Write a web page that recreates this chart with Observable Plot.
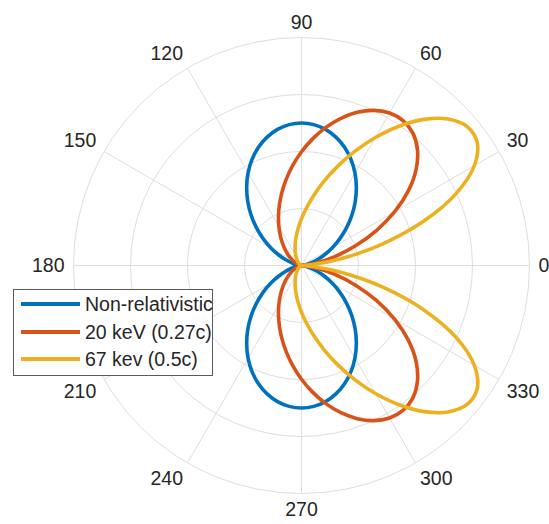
<!DOCTYPE html>
<html>
<head>
<meta charset="utf-8">
<script src="https://cdn.jsdelivr.net/npm/d3@7"></script>
<script src="https://cdn.jsdelivr.net/npm/@observablehq/plot@0.6"></script>
<style>
  html, body { margin: 0; padding: 0; background: #fff; overflow: hidden; }
  #wrap { position: relative; width: 549px; height: 524px; font-family: "Liberation Sans", Arial, Helvetica, sans-serif; }
  #legend { position: absolute; left: 13px; top: 289px; width: 200px; height: 87px; box-sizing: border-box;
            border: 1px solid #5a5a5a; background: #fff; }
  .row { position: absolute; left: 0; height: 24px; width: 100%; }
  .sw { position: absolute; left: 7px; width: 59px; height: 4px; top: 10px; }
  .lab { position: absolute; left: 71px; top: 0; line-height: 24px; font-size: 19.5px; color: #262626; white-space: nowrap; }
</style>
</head>
<body>
<div id="wrap"><div id="chart"></div><div id="legend"></div></div>
<script>
// ---- data ----
// polar angle (degrees) for the upper half; the lower half mirrors it
const angleDeg = [0,5,10,15,20,25,30,35,40,45,50,55,60,65,70,75,80,85,90,
                  95,100,105,110,115,120,125,130,135,140,145,150,155,160,165,170,175,180];
const rNonRel = [0,0.0038,0.0151,0.0335,0.0585,0.0893,0.125,0.1645,0.2066,0.25,0.2934,0.3355,0.375,0.4107,0.4415,0.4665,0.4849,0.4962,0.5,
                 0.4962,0.4849,0.4665,0.4415,0.4107,0.375,0.3355,0.2934,0.25,0.2066,0.1645,0.125,0.0893,0.0585,0.0335,0.0151,0.0038,0];
const r20keV  = [0,0.0145,0.0565,0.1211,0.2017,0.2899,0.3777,0.4581,0.5251,0.5753,0.6075,0.6210,0.6179,0.6006,0.5718,0.5348,0.4920,0.4460,0.3990,
                 0.3525,0.3077,0.2656,0.2266,0.1910,0.1589,0.1303,0.1052,0.0833,0.0644,0.0483,0.0349,0.0239,0.0151,0.0084,0.0037,0.0009,0];
const r67keV  = [0,0.0392,0.1470,0.2975,0.4582,0.5993,0.7000,0.7526,0.7585,0.7268,0.6692,0.5967,0.5187,0.4417,0.3701,0.3061,0.2506,0.2035,0.1641,
                 0.1316,0.1050,0.0833,0.0658,0.0517,0.0403,0.0312,0.0239,0.0181,0.0134,0.0097,0.0068,0.0045,0.0028,0.0015,0.0007,0.0002,0];
const seriesNames = ["Non-relativistic", "20 keV (0.27c)", "67 kev (0.5c)"];
const seriesColors = ["#0072BD", "#D95319", "#EDB120"];
const ringTicks = [0.2, 0.4, 0.6, 0.8];
const thetaTicks = [0,30,60,90,120,150,180,210,240,270,300,330];
const thetaTickLabels = ["0","30","60","90","120","150","180","210","240","270","300","330"];

// ---- build table ----
const rMax = 0.8;
const deg = Math.PI / 180;
const seriesR = [rNonRel, r20keV, r67keV];
const pts = [];
seriesR.forEach((rs, si) => {
  const full = [];
  angleDeg.forEach((a, i) => full.push([a, rs[i]]));
  for (let i = angleDeg.length - 2; i >= 0; i--) full.push([360 - angleDeg[i], rs[i]]);
  full.forEach(([a, r]) => pts.push({s: seriesNames[si], x: r * Math.cos(a * deg), y: r * Math.sin(a * deg)}));
});
const spokes = thetaTicks.map(a => ({x2: rMax * Math.cos(a * deg), y2: rMax * Math.sin(a * deg)}));
const labR = rMax * 237 / 228;
const labels = thetaTicks.map((a, i) => ({a, text: thetaTickLabels[i], x: labR * Math.cos(a * deg), y: labR * Math.sin(a * deg)}));
const hAnchor = a => (a === 90 || a === 270) ? "middle" : ((a < 90 || a > 270) ? "start" : "end");
const vAnchor = a => (a === 0 || a === 180) ? "middle" : (a < 180 ? "bottom" : "top");
const labelMarks = [];
for (const h of ["start", "middle", "end"]) for (const v of ["top", "middle", "bottom"]) {
  const sub = labels.filter(d => hAnchor(d.a) === h && vAnchor(d.a) === v);
  if (sub.length) labelMarks.push(Plot.text(sub, {x: "x", y: "y", text: "text", textAnchor: h, lineAnchor: v,
    fill: "#262626", fontSize: 19.5}));
}

const chart = Plot.plot({
  width: 549, height: 524, margin: 0,
  style: {fontFamily: '"Liberation Sans", Arial, Helvetica, sans-serif', background: "#fff", overflow: "visible"},
  x: {domain: [-rMax, rMax], range: [73, 529], axis: null},
  y: {domain: [-rMax, rMax], range: [493, 37], axis: null},
  r: {type: "linear", domain: [0, rMax], range: [0, 228]},
  color: {domain: seriesNames, range: seriesColors},
  marks: [
    Plot.dot(ringTicks, {x: () => 0, y: () => 0, r: d => d, fill: "none", stroke: "#dedede", strokeWidth: 1}),
    Plot.link(spokes, {x1: () => 0, y1: () => 0, x2: "x2", y2: "y2", stroke: "#dedede", strokeWidth: 1}),
    Plot.line(pts, {x: "x", y: "y", z: "s", stroke: "s", strokeWidth: 3.6, curve: "catmull-rom"}),
    ...labelMarks
  ]
});
document.getElementById("chart").appendChild(chart);

// ---- legend ----
const leg = document.getElementById("legend");
const rowCenters = [14, 41.5, 68.5];
seriesNames.forEach((n, i) => {
  const row = document.createElement("div");
  row.className = "row";
  row.style.top = (rowCenters[i] - 12) + "px";
  row.innerHTML = `<div class="sw" style="background:${seriesColors[i]}"></div><div class="lab">${n}</div>`;
  leg.appendChild(row);
});
</script>
</body>
</html>
